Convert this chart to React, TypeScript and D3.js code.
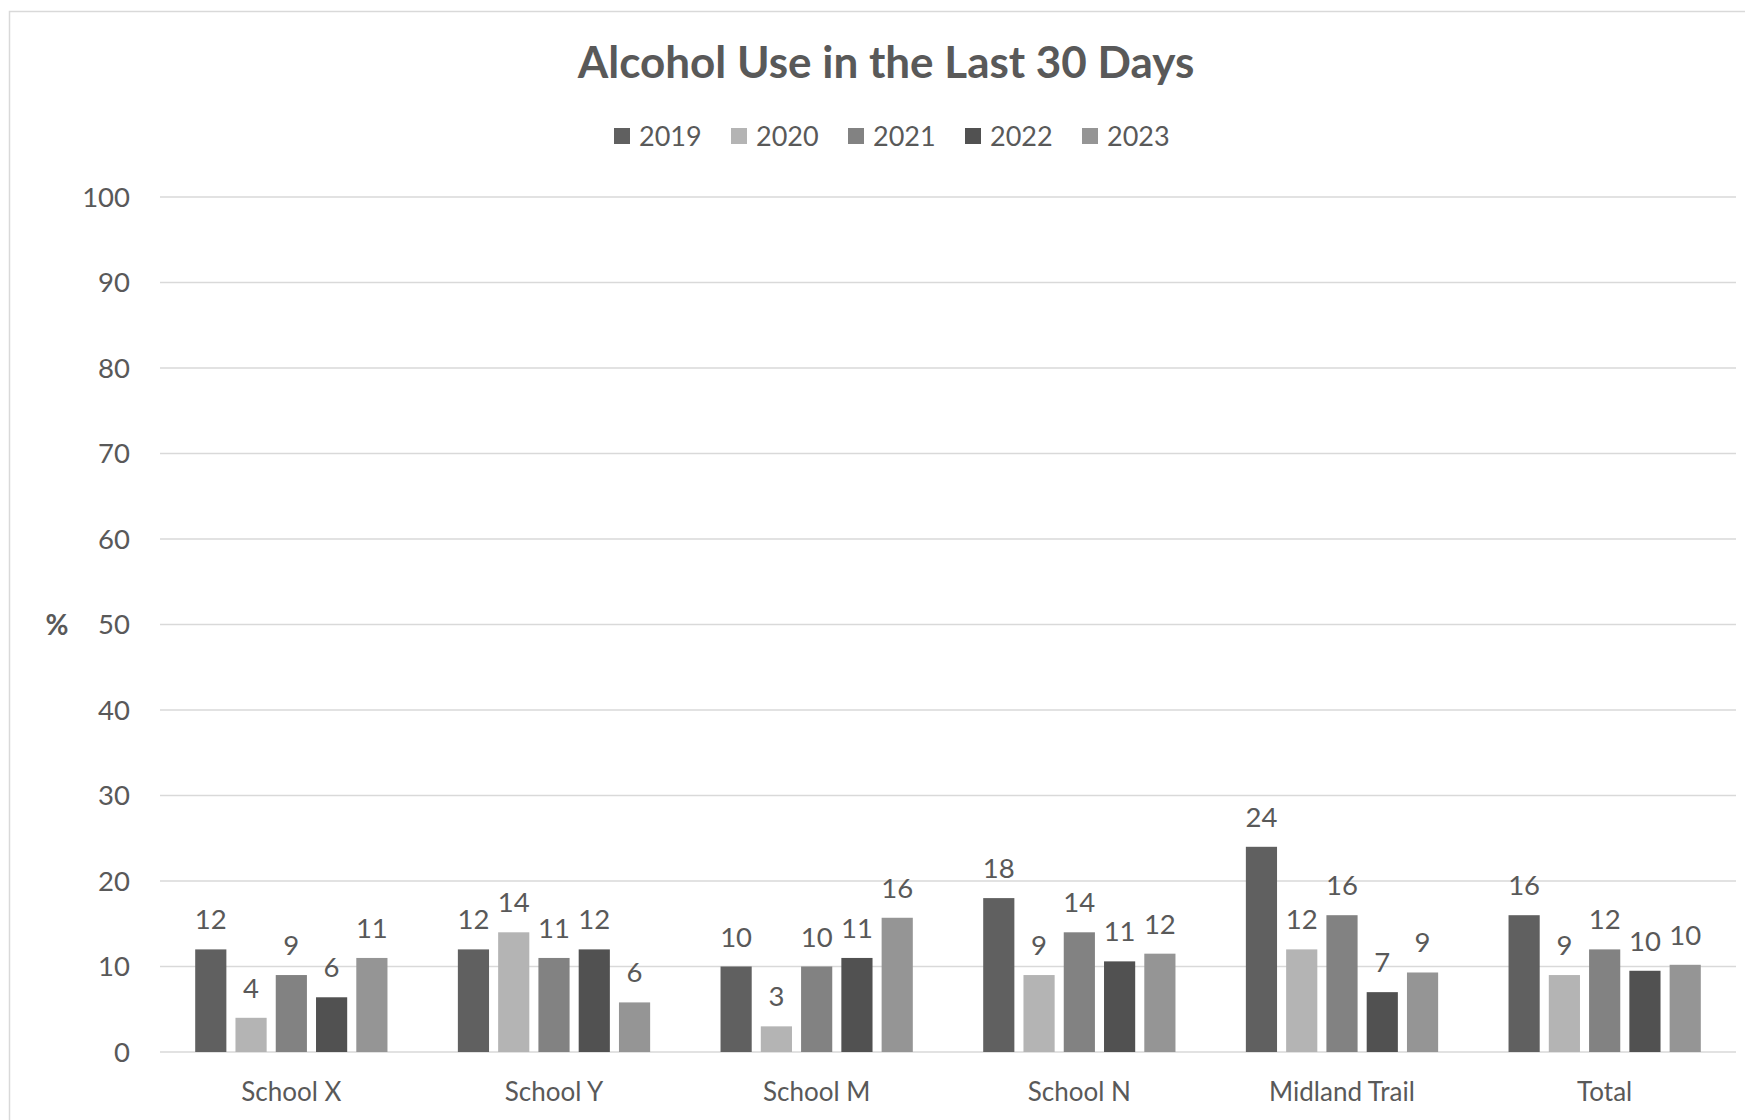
import React from "react";
import * as d3 from "d3";

const categories = ["School X", "School Y", "School M", "School N", "Midland Trail", "Total"];
const years = ["2019", "2020", "2021", "2022", "2023"];
const v2019 = [12, 12, 10, 18, 24, 16];
const v2020 = [4, 14, 3, 9, 12, 9];
const v2021 = [9, 11, 10, 14, 16, 12];
const v2022 = [6.4, 12, 11, 10.6, 7, 9.5];
const v2023 = [11, 5.8, 15.7, 11.5, 9.3, 10.2];
const seriesValues = [v2019, v2020, v2021, v2022, v2023];
const colors = ["#606060", "#b4b4b4", "#828282", "#515151", "#959595"];
const yTicks = [0, 10, 20, 30, 40, 50, 60, 70, 80, 90, 100];

const W = 1745;
const H = 1120;
const FONT = "Lato, 'Open Sans', sans-serif";
const TXT = "#595959";

export default function App() {
  const plotLeft = 160;
  const plotRight = 1736;
  const y = d3.scaleLinear().domain([0, 100]).range([1052, 197]);
  const x0 = d3
    .scaleBand<string>()
    .domain(categories)
    .range([plotLeft, plotRight])
    .paddingInner(0.268)
    .paddingOuter(0.134);
  const x1 = d3
    .scaleBand<string>()
    .domain(years)
    .range([0, x0.bandwidth()])
    .paddingInner(0.226)
    .paddingOuter(0);

  const legendStart = 614;
  const legendStep = 117;

  return (
    <div style={{ position: "absolute", left: 0, top: 0 }}>
      <svg width={W} height={H} style={{ display: "block" }} fontFamily={FONT}>
        <rect x={0} y={0} width={W} height={H} fill="#ffffff" />
        <rect x={9.5} y={11.5} width={1780} height={1140} fill="none" stroke="#d9d9d9" strokeWidth={1.5} />
        <text x={886} y={78} textAnchor="middle" fontSize={44} fontWeight="bold" fill={TXT}>
          Alcohol Use in the Last 30 Days
        </text>
        {years.map((yr, i) => (
          <g key={yr} transform={`translate(${legendStart + i * legendStep},0)`}>
            <rect x={0} y={128} width={16} height={16} fill={colors[i]} />
            <text x={25} y={146} fontSize={27} fill={TXT}>
              {yr}
            </text>
          </g>
        ))}
        {yTicks.map((t) => (
          <g key={t}>
            <line x1={plotLeft} x2={plotRight} y1={y(t)} y2={y(t)} stroke="#d9d9d9" strokeWidth={1.5} />
            <text x={130} y={y(t) + 9.5} textAnchor="end" fontSize={27.5} fill={TXT}>
              {t}
            </text>
          </g>
        ))}
        <text x={57} y={y(50) + 10} textAnchor="middle" fontSize={28} fontWeight="bold" fill={TXT}>
          %
        </text>
        {categories.map((c, ci) => (
          <g key={c} transform={`translate(${x0(c)},0)`}>
            {years.map((yr, si) => {
              const v = seriesValues[si][ci];
              const bx = x1(yr)!;
              return (
                <g key={yr}>
                  <rect x={bx} y={y(v)} width={x1.bandwidth()} height={y(0) - y(v)} fill={colors[si]} />
                  <text
                    x={bx + x1.bandwidth() / 2}
                    y={y(v) - 20}
                    textAnchor="middle"
                    fontSize={27.5}
                    fill={TXT}
                  >
                    {Math.round(v)}
                  </text>
                </g>
              );
            })}
            <text x={x0.bandwidth() / 2} y={1101} textAnchor="middle" fontSize={26} fill={TXT}>
              {c}
            </text>
          </g>
        ))}
      </svg>
    </div>
  );
}
